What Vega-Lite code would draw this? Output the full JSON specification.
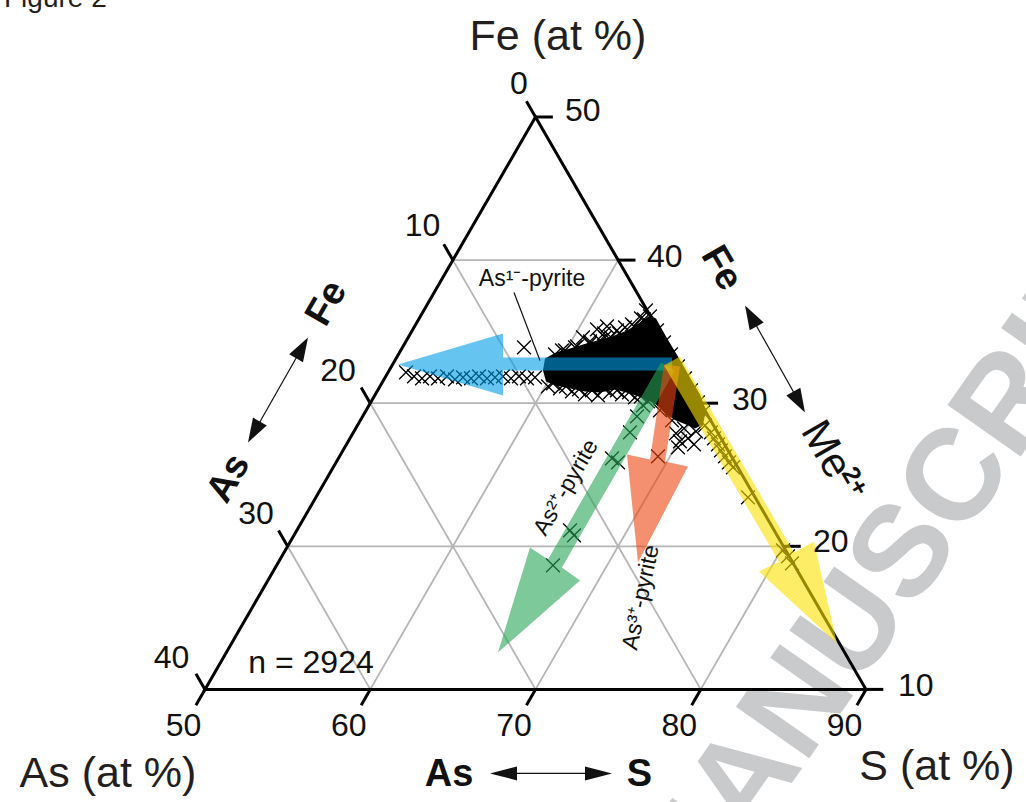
{
  "$schema": "https://vega.github.io/schema/vega-lite/v6.json",
  "width": 661,
  "height": 572.4,
  "autosize": {"type": "none"},
  "padding": {"left": 205, "top": 117, "right": 160, "bottom": 112.6},
  "background": "white",
  "config": {"view": {"stroke": null}, "text": {"font": "Liberation Sans"}},
  "encoding": {
    "x": {"field": "x", "type": "quantitative", "scale": {"domain": [0, 40], "nice": false, "zero": false}, "axis": null},
    "y": {"field": "y", "type": "quantitative", "scale": {"domain": [0, 34.641], "nice": false, "zero": false}, "axis": null}
  },
  "layer": [
    {
      "data": {"values": [{"x": 42.36, "y": 8.23, "t": "MANUSCRIPT"}]},
      "mark": {"type": "text", "angle": 305, "fontSize": 130, "fontWeight": "bold", "color": "#c9cacc", "align": "center", "baseline": "middle"},
      "encoding": {"text": {"field": "t"}}
    },
    {
      "data": {"values": [
        {"x": 5, "y": 8.660, "x2": 35, "y2": 8.660},
        {"x": 10, "y": 17.321, "x2": 30, "y2": 17.321},
        {"x": 15, "y": 25.981, "x2": 25, "y2": 25.981},
        {"x": 10, "y": 0, "x2": 25, "y2": 25.981},
        {"x": 20, "y": 0, "x2": 30, "y2": 17.321},
        {"x": 30, "y": 0, "x2": 35, "y2": 8.660},
        {"x": 15, "y": 25.981, "x2": 30, "y2": 0},
        {"x": 10, "y": 17.321, "x2": 20, "y2": 0},
        {"x": 5, "y": 8.660, "x2": 10, "y2": 0}
      ]},
      "mark": {"type": "rule", "color": "#b5b5b5", "strokeWidth": 1.8},
      "encoding": {"x2": {"field": "x2"}, "y2": {"field": "y2"}}
    },
    {
      "data": {"values": [
        {"i": 1, "x": 0, "y": 0},
        {"i": 2, "x": 40, "y": 0},
        {"i": 3, "x": 20, "y": 34.641}
      ]},
      "mark": {"type": "line", "interpolate": "linear-closed", "color": "black", "strokeWidth": 3, "strokeJoin": "miter"},
      "encoding": {"order": {"field": "i", "type": "quantitative"}}
    },
    {
      "data": {"values": [
        {"x": 20, "y": 34.641, "x2": 21.05, "y2": 34.641},
        {"x": 25, "y": 25.981, "x2": 26.05, "y2": 25.981},
        {"x": 30, "y": 17.321, "x2": 31.05, "y2": 17.321},
        {"x": 35, "y": 8.660, "x2": 36.05, "y2": 8.660},
        {"x": 40, "y": 0, "x2": 41.05, "y2": 0},
        {"x": 20, "y": 34.641, "x2": 19.45, "y2": 35.594},
        {"x": 15, "y": 25.981, "x2": 14.45, "y2": 26.934},
        {"x": 10, "y": 17.321, "x2": 9.45, "y2": 18.274},
        {"x": 5, "y": 8.660, "x2": 4.45, "y2": 9.613},
        {"x": 0, "y": 0, "x2": -0.55, "y2": 0.953},
        {"x": 0, "y": 0, "x2": -0.55, "y2": -0.953},
        {"x": 10, "y": 0, "x2": 9.45, "y2": -0.953},
        {"x": 20, "y": 0, "x2": 19.45, "y2": -0.953},
        {"x": 30, "y": 0, "x2": 29.45, "y2": -0.953},
        {"x": 40, "y": 0, "x2": 39.45, "y2": -0.953}
      ]},
      "mark": {"type": "rule", "color": "black", "strokeWidth": 3},
      "encoding": {"x2": {"field": "x2"}, "y2": {"field": "y2"}}
    },
    {
      "data": {"values": [
        {"id": "core", "i": 1, "x": 20.575, "y": 20.030},
        {"id": "core", "i": 2, "x": 21.240, "y": 20.393},
        {"id": "core", "i": 3, "x": 22.088, "y": 20.635},
        {"id": "core", "i": 4, "x": 22.874, "y": 20.877},
        {"id": "core", "i": 5, "x": 23.721, "y": 21.119},
        {"id": "core", "i": 6, "x": 24.629, "y": 21.361},
        {"id": "core", "i": 7, "x": 25.537, "y": 21.725},
        {"id": "core", "i": 8, "x": 26.324, "y": 22.209},
        {"id": "core", "i": 9, "x": 26.929, "y": 22.632},
        {"id": "core", "i": 10, "x": 27.292, "y": 22.451},
        {"id": "core", "i": 11, "x": 27.897, "y": 21.361},
        {"id": "core", "i": 12, "x": 28.623, "y": 20.151},
        {"id": "core", "i": 13, "x": 29.349, "y": 18.880},
        {"id": "core", "i": 14, "x": 29.954, "y": 17.852},
        {"id": "core", "i": 15, "x": 30.318, "y": 16.883},
        {"id": "core", "i": 16, "x": 30.136, "y": 16.036},
        {"id": "core", "i": 17, "x": 29.652, "y": 15.794},
        {"id": "core", "i": 18, "x": 29.107, "y": 16.036},
        {"id": "core", "i": 19, "x": 28.502, "y": 16.278},
        {"id": "core", "i": 20, "x": 27.897, "y": 16.641},
        {"id": "core", "i": 21, "x": 27.292, "y": 17.246},
        {"id": "core", "i": 22, "x": 26.566, "y": 17.610},
        {"id": "core", "i": 23, "x": 25.718, "y": 17.912},
        {"id": "core", "i": 24, "x": 24.811, "y": 18.154},
        {"id": "core", "i": 25, "x": 23.903, "y": 17.973},
        {"id": "core", "i": 26, "x": 22.995, "y": 18.033},
        {"id": "core", "i": 27, "x": 22.088, "y": 18.215},
        {"id": "core", "i": 28, "x": 21.240, "y": 18.396},
        {"id": "core", "i": 29, "x": 20.635, "y": 18.638},
        {"id": "core", "i": 30, "x": 20.454, "y": 19.304}
      ]},
      "mark": {"type": "line", "filled": true, "interpolate": "linear-closed", "color": "black"},
      "encoding": {"detail": {"field": "id"}, "order": {"field": "i", "type": "quantitative"}}
    },
    {
      "data": {"values": [
        {"x": 12.163, "y": 19.183}, {"x": 12.647, "y": 18.941}, {"x": 13.132, "y": 18.820}, {"x": 13.616, "y": 18.941},
        {"x": 14.100, "y": 18.820}, {"x": 14.644, "y": 18.941}, {"x": 15.129, "y": 18.759}, {"x": 15.613, "y": 18.880},
        {"x": 16.097, "y": 18.820}, {"x": 16.581, "y": 18.941}, {"x": 17.065, "y": 18.820}, {"x": 17.549, "y": 18.880},
        {"x": 18.033, "y": 18.941}, {"x": 18.517, "y": 18.820}, {"x": 19.001, "y": 18.941}, {"x": 19.486, "y": 18.820},
        {"x": 19.970, "y": 18.880},
        {"x": 19.304, "y": 20.696}, {"x": 22.874, "y": 21.301}, {"x": 23.721, "y": 21.785}, {"x": 24.145, "y": 21.543},
        {"x": 24.569, "y": 21.301}, {"x": 23.903, "y": 21.119}, {"x": 24.932, "y": 21.725}, {"x": 25.416, "y": 21.906},
        {"x": 25.839, "y": 22.088}, {"x": 24.327, "y": 21.967}, {"x": 23.298, "y": 20.938}, {"x": 22.390, "y": 20.696},
        {"x": 21.785, "y": 20.514}, {"x": 21.180, "y": 20.272},
        {"x": 21.603, "y": 20.514}, {"x": 22.511, "y": 20.756}, {"x": 23.298, "y": 21.059}, {"x": 24.206, "y": 21.301},
        {"x": 25.053, "y": 21.543}, {"x": 25.961, "y": 21.967}, {"x": 26.566, "y": 22.390},
        {"x": 26.687, "y": 22.935}, {"x": 26.929, "y": 22.572}, {"x": 26.384, "y": 22.451},
        {"x": 27.352, "y": 21.725}, {"x": 27.776, "y": 20.998}, {"x": 28.200, "y": 20.272}, {"x": 28.623, "y": 19.546},
        {"x": 29.047, "y": 18.820}, {"x": 29.410, "y": 18.094}, {"x": 29.833, "y": 17.368}, {"x": 30.136, "y": 16.762},
        {"x": 20.756, "y": 18.336}, {"x": 21.482, "y": 18.215}, {"x": 22.209, "y": 18.033}, {"x": 22.995, "y": 17.852},
        {"x": 23.782, "y": 17.791}, {"x": 24.508, "y": 17.973}, {"x": 25.234, "y": 17.852}, {"x": 26.021, "y": 17.670},
        {"x": 26.808, "y": 17.428}, {"x": 27.534, "y": 16.883}, {"x": 28.260, "y": 16.278}, {"x": 28.986, "y": 15.794},
        {"x": 29.712, "y": 15.613}, {"x": 30.257, "y": 15.976},
        {"x": 21.059, "y": 18.517}, {"x": 21.846, "y": 18.336}, {"x": 22.632, "y": 18.154}, {"x": 23.419, "y": 18.094},
        {"x": 24.145, "y": 18.215}, {"x": 24.932, "y": 18.094}, {"x": 25.658, "y": 17.973}, {"x": 26.384, "y": 17.731},
        {"x": 28.502, "y": 15.492}, {"x": 28.744, "y": 15.007}, {"x": 28.623, "y": 14.644}, {"x": 29.228, "y": 15.189},
        {"x": 29.591, "y": 14.826},
        {"x": 30.620, "y": 15.552}, {"x": 30.802, "y": 15.189}, {"x": 31.044, "y": 14.826}, {"x": 31.225, "y": 14.463},
        {"x": 31.467, "y": 14.100}, {"x": 31.709, "y": 13.737}, {"x": 31.951, "y": 13.434}, {"x": 32.859, "y": 11.619},
        {"x": 34.977, "y": 8.411}, {"x": 35.280, "y": 8.048}, {"x": 35.522, "y": 7.625},
        {"x": 25.718, "y": 15.552}, {"x": 24.629, "y": 13.979}, {"x": 24.992, "y": 13.737}, {"x": 22.088, "y": 9.622},
        {"x": 22.330, "y": 9.319}, {"x": 21.059, "y": 7.504}, {"x": 26.505, "y": 17.186}, {"x": 26.142, "y": 16.520},
        {"x": 27.413, "y": 14.100}
      ]},
      "mark": {"type": "point", "shape": "M-1,-1L1,1M1,-1L-1,1", "filled": false, "color": "black", "strokeWidth": 1.3, "size": 190, "opacity": 1}
    },
    {
      "data": {"values": [
        {"a": "blue", "i": 1, "x": 28.260, "y": 20.091},
        {"a": "blue", "i": 2, "x": 18.033, "y": 20.091},
        {"a": "blue", "i": 3, "x": 18.033, "y": 21.543},
        {"a": "blue", "i": 4, "x": 11.679, "y": 19.667},
        {"a": "blue", "i": 5, "x": 18.033, "y": 17.791},
        {"a": "blue", "i": 6, "x": 18.033, "y": 19.304},
        {"a": "blue", "i": 7, "x": 28.260, "y": 19.304},
        {"a": "green", "i": 1, "x": 27.594, "y": 19.788},
        {"a": "green", "i": 2, "x": 20.756, "y": 7.867},
        {"a": "green", "i": 3, "x": 19.667, "y": 8.593},
        {"a": "green", "i": 4, "x": 17.731, "y": 2.239},
        {"a": "green", "i": 5, "x": 22.693, "y": 6.596},
        {"a": "green", "i": 6, "x": 21.603, "y": 7.383},
        {"a": "green", "i": 7, "x": 28.442, "y": 19.304},
        {"a": "salmon", "i": 1, "x": 27.776, "y": 19.667},
        {"a": "salmon", "i": 2, "x": 26.929, "y": 13.918},
        {"a": "salmon", "i": 3, "x": 25.537, "y": 14.221},
        {"a": "salmon", "i": 4, "x": 26.203, "y": 7.685},
        {"a": "salmon", "i": 5, "x": 29.228, "y": 13.495},
        {"a": "salmon", "i": 6, "x": 27.836, "y": 13.797},
        {"a": "salmon", "i": 7, "x": 28.744, "y": 19.546},
        {"a": "yellow", "i": 1, "x": 27.776, "y": 19.607},
        {"a": "yellow", "i": 2, "x": 34.735, "y": 7.746},
        {"a": "yellow", "i": 3, "x": 33.525, "y": 7.141},
        {"a": "yellow", "i": 4, "x": 38.245, "y": 2.784},
        {"a": "yellow", "i": 5, "x": 36.853, "y": 8.956},
        {"a": "yellow", "i": 6, "x": 35.643, "y": 8.290},
        {"a": "yellow", "i": 7, "x": 28.744, "y": 20.151}
      ]},
      "mark": {"type": "line", "filled": true, "interpolate": "linear-closed", "fillOpacity": 0.6},
      "encoding": {
        "color": {"field": "a", "type": "nominal", "legend": null,
          "scale": {"domain": ["blue", "green", "salmon", "yellow"], "range": ["#009ee6", "#28a557", "#ed460f", "#fadf00"]}},
        "order": {"field": "i", "type": "quantitative"}
      }
    },
    {
      "data": {"values": [
        {"id": "r1", "i": 1, "x": 32.678, "y": 23.237}, {"id": "r1", "i": 2, "x": 33.809, "y": 22.209}, {"id": "r1", "i": 3, "x": 32.963, "y": 21.737},
        {"id": "r2", "i": 1, "x": 36.308, "y": 16.762}, {"id": "r2", "i": 2, "x": 36.024, "y": 18.263}, {"id": "r2", "i": 3, "x": 35.177, "y": 17.791},
        {"id": "l1", "i": 1, "x": 6.233, "y": 21.301}, {"id": "l1", "i": 2, "x": 5.930, "y": 19.800}, {"id": "l1", "i": 3, "x": 5.095, "y": 20.284},
        {"id": "l2", "i": 1, "x": 2.602, "y": 14.947}, {"id": "l2", "i": 2, "x": 3.740, "y": 15.964}, {"id": "l2", "i": 3, "x": 2.905, "y": 16.448},
        {"id": "b1", "i": 1, "x": 17.246, "y": -5.083}, {"id": "b1", "i": 2, "x": 18.880, "y": -4.660}, {"id": "b1", "i": 3, "x": 18.880, "y": -5.507},
        {"id": "b2", "i": 1, "x": 24.629, "y": -5.083}, {"id": "b2", "i": 2, "x": 22.995, "y": -4.660}, {"id": "b2", "i": 3, "x": 22.995, "y": -5.507}
      ]},
      "mark": {"type": "line", "filled": true, "interpolate": "linear-closed", "color": "#111111"},
      "encoding": {"detail": {"field": "id"}, "order": {"field": "i", "type": "quantitative"}}
    },
    {
      "data": {"values": [
        {"x": 18.699, "y": 24.024, "x2": 20.272, "y2": 19.909},
        {"x": 32.980, "y": 22.693, "x2": 36.006, "y2": 17.307},
        {"x": 5.809, "y": 20.575, "x2": 3.026, "y2": 15.673},
        {"x": 18.457, "y": -5.083, "x2": 23.419, "y2": -5.083}
      ]},
      "mark": {"type": "rule", "color": "#111111", "strokeWidth": 1.2},
      "encoding": {"x2": {"field": "x2"}, "y2": {"field": "y2"}}
    },
    {
      "data": {"values": [
        {"x": 21.361, "y": 39.576, "t": "Fe (at %)"},
        {"x": -5.870, "y": -5.023, "t": "As (at %)"},
        {"x": 44.296, "y": -4.599, "t": "S (at %)"}
      ]},
      "mark": {"type": "text", "fontSize": 43, "color": "#231f20", "align": "center", "baseline": "middle", "dy": 2},
      "encoding": {"text": {"field": "t"}}
    },
    {
      "data": {"values": [
        {"x": 19.001, "y": 36.732, "t": "0"},
        {"x": 13.162, "y": 28.169, "t": "10"},
        {"x": 8.048, "y": 19.364, "t": "20"},
        {"x": 3.086, "y": 10.711, "t": "30"},
        {"x": -2.027, "y": 2.027, "t": "40"},
        {"x": -1.3, "y": -2.088, "t": "50"},
        {"x": 8.7, "y": -2.088, "t": "60"},
        {"x": 18.7, "y": -2.088, "t": "70"},
        {"x": 28.7, "y": -2.088, "t": "80"},
        {"x": 38.7, "y": -2.088, "t": "90"},
        {"x": 6.414, "y": 1.694, "t": "n = 2924"}
      ]},
      "mark": {"type": "text", "fontSize": 32, "color": "#111111", "align": "center", "baseline": "middle", "dy": 2},
      "encoding": {"text": {"field": "t"}}
    },
    {
      "data": {"values": [
        {"x": 21.785, "y": 35.098, "t": "50"},
        {"x": 26.747, "y": 26.263, "t": "40"},
        {"x": 31.891, "y": 17.640, "t": "30"},
        {"x": 36.793, "y": 9.017, "t": "20"},
        {"x": 41.936, "y": 0.333, "t": "10"}
      ]},
      "mark": {"type": "text", "fontSize": 32, "color": "#111111", "align": "left", "baseline": "middle", "dy": 2},
      "encoding": {"text": {"field": "t"}}
    },
    {
      "data": {"values": [{"x": -12.163, "y": 41.271, "t": "Figure 2"}]},
      "mark": {"type": "text", "fontSize": 28, "color": "#231f20", "align": "left", "baseline": "alphabetic"},
      "encoding": {"text": {"field": "t"}}
    },
    {
      "data": {"values": [
        {"x": 14.765, "y": -5.052, "t": "As"},
        {"x": 26.293, "y": -5.052, "t": "S"}
      ]},
      "mark": {"type": "text", "fontSize": 38, "fontWeight": "bold", "color": "#111111", "align": "center", "baseline": "middle", "dy": 2},
      "encoding": {"text": {"field": "t"}}
    },
    {
      "data": {"values": [{"x": 31.225, "y": 25.476, "t": "Fe"}]},
      "mark": {"type": "text", "angle": 60, "fontSize": 38, "fontWeight": "bold", "color": "#111111", "align": "center", "baseline": "middle"},
      "encoding": {"text": {"field": "t"}}
    },
    {
      "data": {"values": [
        {"x": 7.383, "y": 23.358, "t": "Fe"},
        {"x": 1.452, "y": 12.768, "t": "As"}
      ]},
      "mark": {"type": "text", "angle": 300, "fontSize": 38, "fontWeight": "bold", "color": "#111111", "align": "center", "baseline": "middle"},
      "encoding": {"text": {"field": "t"}}
    },
    {
      "data": {"values": [{"x": 37.579, "y": 14.523, "t": "Me"}]},
      "mark": {"type": "text", "angle": 60, "fontSize": 42, "color": "#111111", "align": "center", "baseline": "middle"},
      "encoding": {"text": {"field": "t"}}
    },
    {
      "data": {"values": [{"x": 39.334, "y": 12.587, "t": "2+"}]},
      "mark": {"type": "text", "angle": 60, "fontSize": 25, "fontWeight": "bold", "color": "#111111", "align": "center", "baseline": "middle"},
      "encoding": {"text": {"field": "t"}}
    },
    {
      "data": {"values": [{"x": 19.788, "y": 24.811, "t": "As¹⁻-pyrite"}]},
      "mark": {"type": "text", "fontSize": 23, "color": "#111111", "align": "center", "baseline": "middle"},
      "encoding": {"text": {"field": "t"}}
    },
    {
      "data": {"values": [{"x": 21.846, "y": 12.224, "t": "As²⁺-pyrite"}]},
      "mark": {"type": "text", "angle": 300, "fontSize": 23, "color": "#111111", "align": "center", "baseline": "middle"},
      "encoding": {"text": {"field": "t"}}
    },
    {
      "data": {"values": [{"x": 26.384, "y": 5.567, "t": "As³⁺-pyrite"}]},
      "mark": {"type": "text", "angle": 282, "fontSize": 23, "color": "#111111", "align": "center", "baseline": "middle"},
      "encoding": {"text": {"field": "t"}}
    }
  ]
}
